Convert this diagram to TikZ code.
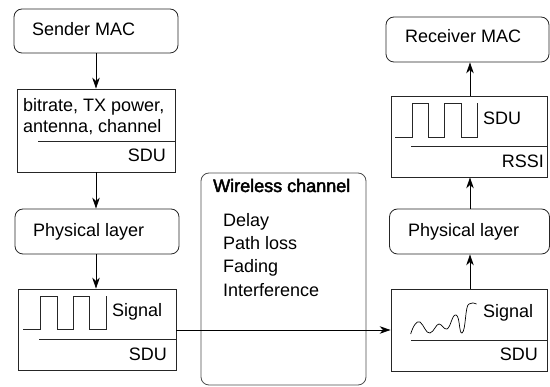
\documentclass[tikz,border=0pt]{standalone}
\usepackage{fontspec}
\setmainfont{Liberation Sans}
\newfontfamily\fakeboldfont[FakeBold=2.5]{Liberation Sans}
\usetikzlibrary{arrows.meta}
\begin{document}
\begin{tikzpicture}[x=1pt,y=-1pt,
  every node/.style={font=\fontsize{18}{22}\selectfont, inner sep=0pt},
  rbox/.style={draw=black!85, line width=0.8pt, rounded corners=8pt},
  sbox/.style={draw=black!85, line width=0.8pt},
  lbl/.style={anchor=base west},
  rlbl/.style={anchor=base east},
  arr/.style={line width=0.8pt, -{Stealth[length=11pt,width=7.5pt,inset=3.5pt]}},
  thin/.style={line width=0.8pt, black!85}]
\useasboundingbox (0,0) rectangle (550,387);
% left column
\node[rbox, minimum width=164pt, minimum height=44pt] (smac) at (96,31) {};
\node[lbl] (smact) at (32,36) {Sender MAC};
\node[sbox, minimum width=158pt, minimum height=83pt] (txbox) at (96,130.5) {};
\node[lbl] (tx1) at (23,112) {bitrate, TX power,};
\node[lbl] (tx2) at (23,133) {antenna, channel};
\node[rlbl] (tx3) at (166,162) {SDU};
\draw[thin] (38,141) -- (175,141);
\node[rbox, minimum width=164pt, minimum height=45pt] (phyL) at (97,231.5) {};
\node[lbl] (phyLt) at (33,237) {Physical layer};
\node[sbox, minimum width=158pt, minimum height=81pt] (sigL) at (97,329.5) {};
\draw[thin] (23,329) -- (40,329) -- (40,296) -- (57,296) -- (57,329) -- (73,329) -- (73,296) -- (89,296) -- (89,329) -- (106,329) -- (106,296);
\node[lbl] (sigLt) at (112,317) {Signal};
\draw[thin] (39,339) -- (176,339);
\node[rlbl] (sigLs) at (167,361) {SDU};
% wireless channel
\node[rbox, draw=black!70, minimum width=165pt, minimum height=212pt] (wch) at (283.5,279) {};
\node[lbl] (wcht) at (213,192) {\fakeboldfont Wireless channel};
\node[lbl] (w1) at (223,227) {Delay};
\node[lbl] (w2) at (223,250) {Path loss};
\node[lbl] (w3) at (223,273) {Fading};
\node[lbl] (w4) at (223,297) {Interference};
% right column
\node[rbox, minimum width=163pt, minimum height=45pt] (rmac) at (467.5,39.5) {};
\node[lbl] (rmact) at (405,43) {Receiver MAC};
\node[sbox, minimum width=156pt, minimum height=81pt] (rxbox) at (469,136.5) {};
\draw[thin] (395,137) -- (412,137) -- (412,103) -- (428,103) -- (428,137) -- (444,137) -- (444,103) -- (461,103) -- (461,137) -- (477,137) -- (477,103);
\node[lbl] (rxt) at (483,125) {SDU};
\draw[thin] (411,146) -- (547,146);
\node[rlbl] (rxs) at (544,168) {RSSI};
\node[rbox, minimum width=160pt, minimum height=45pt] (phyR) at (469.5,231.5) {};
\node[lbl] (phyRt) at (408,237) {Physical layer};
\node[sbox, minimum width=156pt, minimum height=82pt] (sigR) at (469,330) {};
\draw[line width=0.7pt] (410.7,334) .. controls (413,326) and (417,320) .. (420,322)
  .. controls (424,325) and (426,334) .. (430,333)
  .. controls (434,332) and (436,324) .. (439,324)
  .. controls (442,324) and (444,330) .. (447,329)
  .. controls (451,327) and (452,314) .. (456,315)
  .. controls (460,316) and (459,334) .. (462,333)
  .. controls (466,331) and (465,305) .. (469,304)
  .. controls (472,303) and (474,302) .. (476.5,304);
\node[lbl] (sigRt) at (483,318) {Signal};
\draw[thin] (411,340) -- (547,340);
\node[rlbl] (sigRs) at (538,361) {SDU};
% arrows
\draw[arr] (smac.south) -- (smac.south |- txbox.north);
\draw[arr] (txbox.south) -- (txbox.south |- phyL.north);
\draw[arr] (phyL.south -| txbox.south) -- (txbox.south |- sigL.north);
\draw[arr] (sigL.east |- 0,330) -- (sigR.west |- 0,330);
\draw[arr] (sigR.north -| 470,0) -- (phyR.south -| 470,0);
\draw[arr] (phyR.north -| 470,0) -- (rxbox.south -| 470,0);
\draw[arr] (rxbox.north -| 470,0) -- (rmac.south -| 470,0);
\end{tikzpicture}
\end{document}
